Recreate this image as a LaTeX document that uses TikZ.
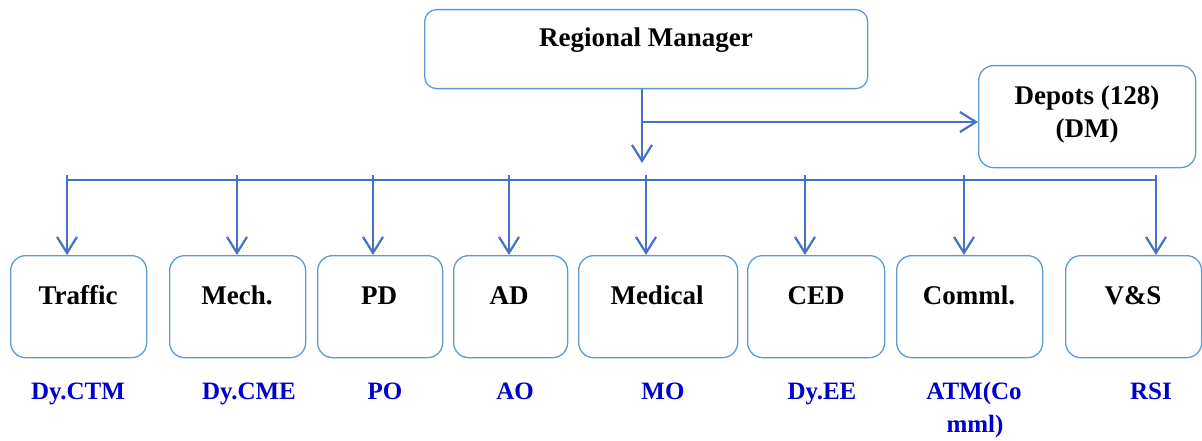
\documentclass[tikz,border=0pt]{standalone}
\usepackage{fontspec}
\setmainfont{Liberation Serif}
\usetikzlibrary{arrows.meta}
\definecolor{linkblue}{HTML}{4472C4}
\definecolor{boxblue}{HTML}{5B9BD5}
\definecolor{postblue}{HTML}{0000CC}
\tikzset{
  unitbox/.style={draw=boxblue, line width=1.3pt, rounded corners=#1},
  unitbox/.default=15pt,
  title/.style={anchor=base, font=\bfseries\fontsize{27}{31}\selectfont, text=black, inner sep=0pt},
  post/.style={anchor=base, font=\bfseries\fontsize{25}{29}\selectfont, text=postblue, inner sep=0pt},
  link/.style={draw=linkblue, line width=2.2pt, -{Straight Barb[length=16pt, width=20pt, line width=2.2pt]}},
  bus/.style={draw=linkblue, line width=1.4pt},
}
\begin{document}
\begin{tikzpicture}[x=1pt, y=-1pt]
\useasboundingbox (0,0) rectangle (1202,441);

% top level
\node[unitbox=12pt, minimum width=443pt, minimum height=79pt, anchor=north west] (rm) at (424,9) {};
\node[title] (rmt) at (646,47) {Regional Manager};

\node[unitbox, minimum width=217pt, minimum height=102pt, anchor=north west] (dep) at (978,65) {};
\node[title] (dept1) at (1087,105) {Depots (128)};
\node[title] (dept2) at (1087,138) {(DM)};

% connectors from the regional manager
\coordinate (rmdown) at (642,163);
\coordinate (split) at (642,122);
\draw[link] (rm.south -| split) -- (rmdown);
\draw[link] (split) -- (dep.west |- split);

% department boxes: name, left, right, title centre, post centre, arrow x
\foreach \n/\l/\r/\tc/\pc/\ax/\tt/\pt in {
  tr/10/146/78/78/67/Traffic/Dy.CTM,
  me/169/305/237/249/237/Mech./Dy.CME,
  pd/317/442/379/385/373/PD/PO,
  ad/453/567/509/515/509/AD/AO,
  md/578/737/657/663/646/Medical/MO,
  ce/747/884/816/822/805/CED/Dy.EE,
  rs/1065/1201/1133/1151/1156/V\&S/RSI}{
  \node[unitbox, minimum width=\r pt-\l pt, minimum height=102pt, anchor=north west] (\n) at (\l,255) {};
  \node[title] (\n t) at (\tc,304) {\tt};
  \node[post] (\n p) at (\pc,399) {\pt};
  \coordinate (\n top) at (\ax,175);
  \draw[link] (\n top) -- (\n.north -| \n top);
}

% commercial department with a two-line post
\node[unitbox, minimum width=146pt, minimum height=102pt, anchor=north west] (co) at (896,255) {};
\node[title] (cot) at (969,304) {Comml.};
\node[post] (cop1) at (974,399) {ATM(Co};
\node[post] (cop2) at (975,432) {mml)};
\coordinate (cotop) at (964,175);
\draw[link] (cotop) -- (co.north -| cotop);

% distribution bus
\draw[bus] (67,180) coordinate (busl) -- (1156,180) coordinate (busr);
\end{tikzpicture}
\end{document}
